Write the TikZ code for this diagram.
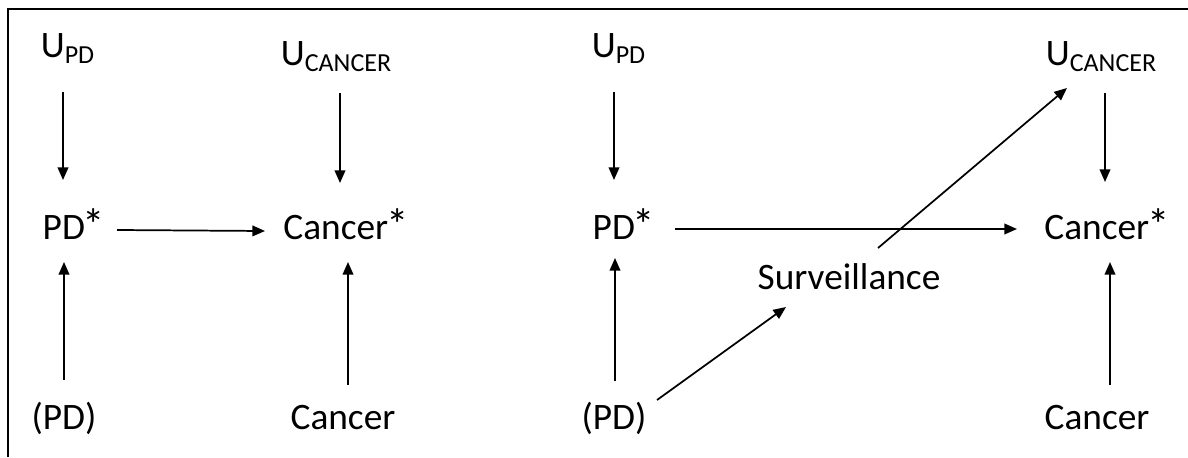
\documentclass[tikz,border=0pt]{standalone}
\usepackage{fontspec}
\setmainfont{Carlito}
\usetikzlibrary{arrows.meta,calc}
\newcommand{\sbt}[1]{\raisebox{-5pt}{\fontsize{19.5}{22}\selectfont #1}}
\newcommand{\astk}{\kern-1.5pt\raisebox{-1pt}{\scalebox{1.2}{*}}}
\tikzset{
  lbl/.style={anchor=base,inner sep=0pt,font=\fontsize{28}{32}\selectfont},
  arr/.style={line width=1.3pt,-{Triangle[length=9.5pt,width=8pt]}},
  frame/.style={line width=1.3pt}
}
\begin{document}
\begin{tikzpicture}[x=0.75pt,y=-0.75pt]
\useasboundingbox (0,0) rectangle (1188,457);
\coordinate (fa) at (8,457);
\coordinate (fb) at (8,9);
\coordinate (fc) at (1188,9);
\draw[frame] (fa) -- (fb) -- (fc);
% left diagram
\node[lbl] (u1) at (67.5,57) {U\sbt{PD}};
\node[lbl] (uc1) at (336,65) {U\sbt{CANCER}};
\node[lbl] (p1) at (74,239) {PD\astk};
\node[lbl] (c1) at (346,239) {Cancer\astk};
\node[lbl] (pp1) at (64,429) {(PD)};
\node[lbl] (ca1) at (343,429) {Cancer};
\draw[arr] ($(u1.base)+(-4.5,35)$) -- ($(p1.base)+(-11,-59)$);
\draw[arr] ($(uc1.base)+(4,28)$) -- ($(c1.base)+(-6,-56)$);
\draw[arr] ($(p1.base)+(43,-9)$) -- ($(c1.base)+(-81,-8)$);
\draw[arr] ($(pp1.base)+(0,-49)$) -- ($(p1.base)+(-10,23)$);
\draw[arr] ($(ca1.base)+(5,-44)$) -- ($(c1.base)+(2,23)$);
% right diagram
\node[lbl] (u2) at (618.5,57) {U\sbt{PD}};
\node[lbl] (uc2) at (1101,65) {U\sbt{CANCER}};
\node[lbl] (p2) at (624,239) {PD\astk};
\node[lbl] (c2) at (1107,239) {Cancer\astk};
\node[lbl] (sv) at (849,289) {Surveillance};
\node[lbl] (pp2) at (614,429) {(PD)};
\node[lbl] (ca2) at (1097,429) {Cancer};
\draw[arr] ($(u2.base)+(-4.5,35)$) -- ($(p2.base)+(-10,-59)$);
\draw[arr] ($(uc2.base)+(4,28)$) -- ($(c2.base)+(-2,-57)$);
\draw[arr] ($(p2.base)+(51,-10)$) -- ($(c2.base)+(-90,-10)$);
\draw[arr] ($(pp2.base)+(1,-48)$) -- ($(p2.base)+(-9,19)$);
\draw[arr] ($(ca2.base)+(13,-44)$) -- ($(c2.base)+(3,23)$);
\draw[arr] ($(pp2.base)+(43,-29)$) -- ($(sv.base)+(-63,18)$);
\draw[arr] ($(sv.base)+(29,-41)$) -- ($(uc2.base)+(-34,23)$);
\end{tikzpicture}
\end{document}
